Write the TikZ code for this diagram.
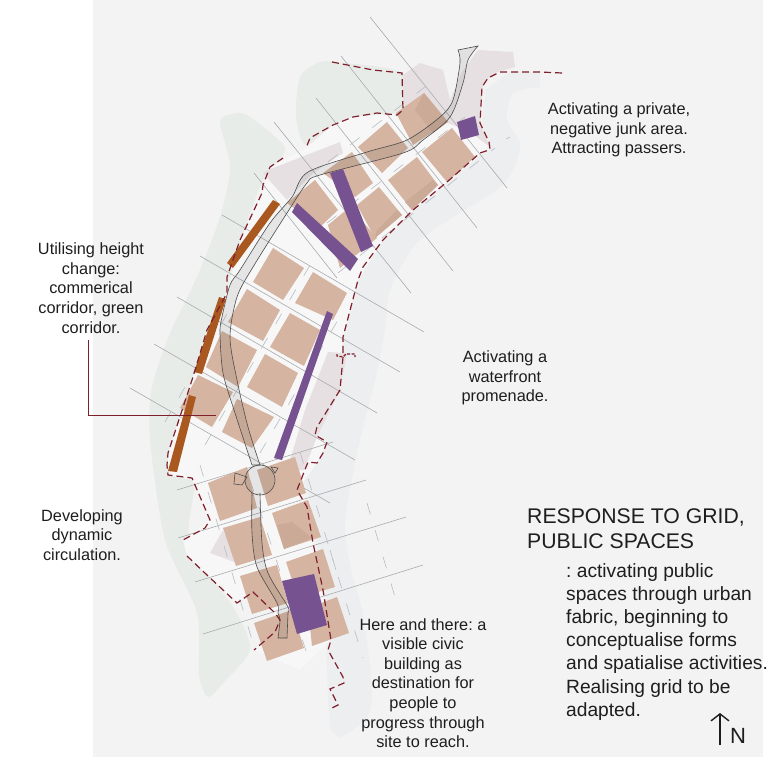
\documentclass[tikz,border=0pt]{standalone}
\usepackage{fontspec}
\setmainfont{Liberation Sans}
\usetikzlibrary{arrows.meta}
\definecolor{sheet}{HTML}{F3F3F3}
\definecolor{sitewhite}{HTML}{F7F7F7}
\definecolor{greenpatch}{HTML}{E8ECE9}
\definecolor{waterpatch}{HTML}{ECEEF0}
\definecolor{mauvepatch}{HTML}{E6E0E2}
\definecolor{blocktan}{HTML}{D5B4A2}
\definecolor{blockshade}{HTML}{CBAA98}
\definecolor{civic}{HTML}{775290}
\definecolor{corridor}{HTML}{A9581F}
\definecolor{boundary}{HTML}{7E1F2B}
\definecolor{gridgrey}{HTML}{A8ABAE}
\definecolor{dashgrey}{HTML}{B7BCC1}
\definecolor{textdark}{HTML}{1E1E1E}

\begin{document}
\frenchspacing
\begin{tikzpicture}[
  x=1pt,y=-1pt,
  green patch/.style={fill=greenpatch},
  water patch/.style={fill=waterpatch},
  mauve patch/.style={fill=mauvepatch},
  block/.style={fill=blocktan},
  block shade/.style={fill=blockshade},
  purple bar/.style={fill=civic},
  brown bar/.style={fill=corridor},
  site line/.style={draw=boundary,line width=1.2pt,dash pattern=on 7pt off 4pt},
  grid line/.style={draw=gridgrey,line width=0.6pt},
  grid dash/.style={draw=dashgrey,line width=0.6pt,dash pattern=on 12pt off 16pt},
  road/.style={draw=black!70,line width=0.6pt},
  note/.style={align=center,text=textdark,font=\fontsize{16.3}{19.6}\selectfont,inner sep=0pt},
  heading/.style={align=left,anchor=north west,text=textdark,font=\fontsize{21.2}{25}\selectfont,inner sep=0pt}
]
  \useasboundingbox (0,0) rectangle (769,776);
  \fill[sheet] (93,0) rectangle (763,757);

  % landscape patches
  \fill[green patch] plot[smooth cycle,tension=.45] coordinates
    {(296,117) (300,77) (320,62) (345,63) (402,73) (403,113) (353,119) (307,145)};
  \fill[green patch] plot[smooth cycle,tension=.45] coordinates
    {(220,122) (232,114) (247,115) (282,143) (283,155) (263,180) (240,243) (215,330) (195,400) (195,480) (190,545)
     (235,610) (250,650) (223,683) (208,697) (199,675) (197,613) (165,540) (150,440) (152,387) (170,333) (197,277) (220,217) (230,167)};
  \fill[water patch] plot[smooth,tension=.45] coordinates
    {(540,87) (513,93) (507,120) (520,143) (513,170) (497,190) (453,217) (415,245) (390,290)
     (385,330) (375,380) (360,440) (345,520) (350,565) (362,610) (372,687) (367,717) (340,737) (330,727)}
    -- (328,700) -- (325,600) -- (310,500) -- (300,470) -- (330,380) -- (345,300) -- (400,215) -- (480,155) -- (485,90) -- (510,72) -- (540,72) -- cycle;
  \fill[sitewhite] (403,113) -- (453,100) -- (480,123) -- (489,142) -- (486,151) -- (447,182) -- (413,210)
    -- (383,240) -- (358,280) -- (343,337) -- (340,390) -- (317,427) -- (315,435) -- (327,442) -- (317,463)
    -- (297,490) -- (307,507) -- (313,543) -- (323,590) -- (331,640) -- (300,670) -- (254,650) -- (275,632)
    -- (280,620) -- (253,592) -- (237,603) -- (207,575) -- (187,556) -- (183,540) -- (210,520) -- (192,480)
    -- (168,475) -- (168,453) -- (193,377) -- (207,330) -- (227,293) -- (240,243) -- (262,193) -- (270,167)
    -- (306,148) -- (333,125) -- (353,117) -- cycle;
  \fill[mauve patch] (403,75) -- (420,63) -- (443,70) -- (450,100) -- (462,72) -- (478,50) -- (513,52) -- (515,67)
    -- (497,72) -- (483,83) -- (480,123) -- (490,147) -- (470,132) -- (440,120) -- (403,113) -- cycle;
  \fill[mauve patch] (263,173) -- (268,170) -- (340,142) -- (343,153) -- (313,173) -- (287,200) -- cycle;
  \fill[mauve patch] (328,352) -- (347,353) -- (340,390) -- (317,437) -- (304,470) -- (287,470) -- (305,410) -- cycle;
  \fill[mauve patch] (210,553) -- (223,530) -- (237,563) -- cycle;

  % street grid
  \path[grid line]
    (370,17) edge (507,188)
    (341,56) edge (477,228)
    (316,98) edge (453,271)
    (274,122) edge (411,293)
    (254,173) edge (337,278)
    (222,215) edge (424,332)
    (200,256) edge (400,372)
    (177,297) edge (377,413)
    (154,344) edge (355,460)
    (130,388) edge (330,503)
    (177,490) edge (333,442)
    (178,538) edge (366,480)
    (195,582) edge (406,517)
    (203,634) edge (423,565);
  \path[grid dash]
    (328,162) edge (430,83)
    (327,223) edge (465,117)
    (338,273) edge (495,148)
    (506,139) edge (510,137)
    (205,445) edge (313,260)
    (260,453) edge (342,313)
    (165,422) edge (235,300)
    (200,465) edge (255,650)
    (250,480) edge (310,663)
    (300,452) edge (336,570)
    (330,550) edge (363,658)
    (367,503) edge (398,607);

  % blocks
  \fill[block] (396,113) -- (424,93) -- (448,122) -- (413,145) -- cycle;
  \fill[block] (358,147) -- (387,122) -- (408,148) -- (382,173) -- cycle;
  \fill[block] (422,152) -- (452,128) -- (475,157) -- (447,182) -- cycle;
  \fill[block] (388,180) -- (417,157) -- (438,185) -- (412,210) -- cycle;
  \fill[block] (357,205) -- (379,187) -- (402,215) -- (375,238) -- cycle;
  \fill[block] (323,173) -- (352,152) -- (373,183) -- (355,197) -- cycle;
  \fill[block] (287,203) -- (315,180) -- (338,210) -- (320,227) -- cycle;
  \fill[block] (328,225) -- (350,207) -- (377,238) -- (340,268) -- cycle;
  \fill[block] (273,248) -- (304,268) -- (283,300) -- (253,282) -- cycle;
  \fill[block] (313,272) -- (347,293) -- (333,320) -- (295,303) -- cycle;
  \fill[block] (247,289) -- (280,310) -- (263,341) -- (228,322) -- cycle;
  \fill[block] (290,313) -- (320,330) -- (304,366) -- (270,347) -- cycle;
  \fill[block] (222,331) -- (257,350) -- (238,387) -- (206,367) -- cycle;
  \fill[block] (265,354) -- (298,373) -- (282,407) -- (247,387) -- cycle;
  \fill[block] (198,375) -- (233,392) -- (212,427) -- (180,408) -- cycle;
  \fill[block] (237,399) -- (274,417) -- (252,448) -- (222,432) -- cycle;
  \fill[block] (208,483) -- (247,467) -- (257,508) -- (220,521) -- cycle;
  \fill[block] (257,470) -- (295,457) -- (306,493) -- (268,506) -- cycle;
  \fill[block] (223,528) -- (260,517) -- (272,555) -- (236,566) -- cycle;
  \fill[block] (272,513) -- (308,500) -- (321,537) -- (284,549) -- cycle;
  \fill[block] (240,576) -- (277,565) -- (288,603) -- (252,614) -- cycle;
  \fill[block] (286,562) -- (323,549) -- (335,587) -- (298,598) -- cycle;
  \fill[block] (254,623) -- (292,610) -- (304,648) -- (267,661) -- cycle;
  \fill[block] (308,608) -- (337,597) -- (349,633) -- (312,646) -- cycle;
  \fill[block shade] (415,110) -- (424,93) -- (448,122) -- (433,133) -- cycle;
  \fill[block shade] (412,210) -- (438,185) -- (433,180) -- (405,202) -- cycle;
  \fill[block shade] (375,238) -- (402,215) -- (397,210) -- (377,230) -- cycle;
  \fill[block shade] (284,549) -- (277,525) -- (292,522) -- (312,538) -- cycle;

  % road, shaded then outlined
  \path[fill=black,fill opacity=.07,road,draw opacity=1]
    plot[smooth,tension=.5] coordinates {(458,50) (460,63) (453,100) (440,117) (407,140) (367,152) (308,172)
      (292,197) (270,223) (240,270) (230,285) (222,317) (220,333) (223,373) (235,413) (252,465)}
    -- (260,465)
    -- plot[smooth,tension=.5] coordinates {(260,465) (248,427) (237,380) (230,337) (237,297) (253,267) (287,213)
      (307,183) (320,175) (403,153) (423,140) (450,117) (463,83) (468,60) (478,46)}
    -- cycle;
  \path[fill=black,fill opacity=.07,road,draw opacity=1]
    plot[smooth,tension=.5] coordinates {(252,493) (252,533) (257,567) (277,603) (278,613) (280,620) (278,638)}
    -- (287,638)
    -- plot[smooth,tension=.5] coordinates {(287,638) (288,613) (288,607) (268,573) (262,543) (260,493)};
  \draw[road,fill=black,fill opacity=.07,draw opacity=1] (260,480) circle[radius=15];
  \draw[road] (235,473) -- (247,477) -- (242,485) -- (234,484) -- cycle;
  \draw[road] (271,467) -- (278,468) -- (275,473) -- cycle;

  % feature bars
  \fill[purple bar] (297,203) -- (358,259) -- (350,271) -- (292,212) -- cycle;
  \fill[purple bar] (330,173) -- (343,169) -- (373,246) -- (361,252) -- cycle;
  \fill[purple bar] (457,122) -- (475,116) -- (479,135) -- (461,140) -- cycle;
  \fill[purple bar] (327,311) -- (333,314) -- (282,460) -- (274,458) -- cycle;
  \fill[purple bar] (282,581) -- (314,574) -- (327,625) -- (297,634) -- cycle;
  \fill[brown bar] (273,200) -- (280,204) -- (233,268) -- (227,263) -- cycle;
  \fill[brown bar] (219,297) -- (226,299) -- (202,374) -- (194,372) -- cycle;
  \fill[brown bar] (189,395) -- (196,397) -- (177,472) -- (168,471) -- cycle;

  % site boundary
  \draw[site line] (332,62) -- (373,70) -- (402,73) -- (403,110) -- (397,115) -- (377,113) -- (353,117) -- (333,125) -- (310,138) -- (306,148);
  \draw[site line] (283,158) -- (270,167) -- (263,185) -- (262,193) -- (240,240) -- (227,277) -- (227,293) -- (207,330)
    -- (193,377) -- (168,453) -- (167,465) -- (168,475) -- (192,478) -- (210,520) -- (205,528) -- (183,540);
  \draw[site line] (187,556) -- (207,575) -- (237,603) -- (253,592) -- (275,613) -- (280,620) -- (275,632) -- (254,650);
  \draw[site line] (562,73) -- (540,72) -- (500,72) -- (488,78) -- (482,87) -- (480,123) -- (489,142) -- (490,149) -- (486,151)
    -- (480,153) -- (447,182) -- (413,210) -- (383,240) -- (363,267) -- (358,280) -- (343,337) -- (343,355);
  \draw[boundary,line width=1.2pt,dash pattern=on 3pt off 1.5pt] (337,354) -- (337,356) -- (343,357) -- (346,354) -- (355,354) -- (355,357);
  \draw[site line] (343,357) -- (340,390) -- (317,427) -- (315,435) -- (327,442) -- (323,453) -- (317,463) -- (308,462) -- (297,490)
    -- (307,507) -- (313,543) -- (323,590) -- (331,640) -- (328,650) -- (343,677) -- (344,683) -- (330,689) -- (338,705) -- (330,709);

  % note leader
  \coordinate (leaderstart) at (88,340);
  \coordinate (leaderbend) at (88,415);
  \coordinate (leaderend) at (216,415);
  \draw[boundary,line width=0.7pt] (leaderstart) -- (leaderbend) -- (leaderend);

  \node[note] (junknote) at (619,130) {Activating a private,\\negative junk area.\\Attracting passers.};
  \node[note] (heightnote) at (91,288) {Utilising height\\change:\\commerical\\corridor, green\\corridor.};
  \node[note] (waterfrontnote) at (505,378) {Activating a\\waterfront\\promenade.};
  \node[note] (circulationnote) at (82,535) {Developing\\dynamic\\circulation.};
  \node[note] (civicnote) at (423,683) {Here and there: a\\visible civic\\building as\\destination for\\people to\\progress through\\site to reach.};

  \node[heading] (title) at (527,508) {RESPONSE TO GRID,\\PUBLIC SPACES};
  \node[heading,font=\fontsize{19.2}{23.2}\selectfont] (summary) at (566,563)
    {: activating public\\spaces through urban\\fabric, beginning to\\conceptualise forms\\and spatialise activities.\\Realising grid to be\\adapted.};

  \node[text=textdark,font=\fontsize{22}{22}\selectfont,inner sep=0pt] (north) at (738,736) {N};
  \coordinate (northfoot) at (720,745);
  \coordinate (northtip) at (720,713);
  \draw[-{Straight Barb[length=7pt,width=18pt]},line width=1.4pt,textdark] (northfoot) -- (northtip);
\end{tikzpicture}
\end{document}
